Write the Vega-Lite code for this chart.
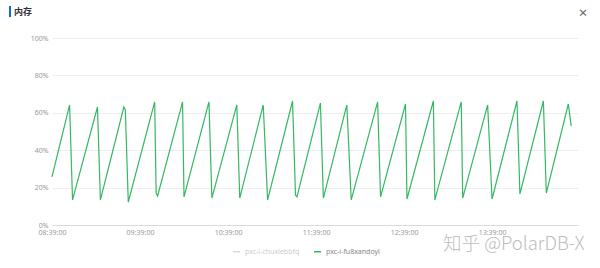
{
  "$schema": "https://vega.github.io/schema/vega-lite/v6.json",
  "width": 526,
  "height": 187,
  "autosize": "none",
  "padding": {"left": 52, "top": 38, "right": 22, "bottom": 43},
  "background": "white",
  "config": {
    "view": {"stroke": null},
    "font": "Noto Sans"
  },
  "title": {
    "text": "内存",
    "anchor": "start",
    "frame": "group",
    "dx": -38,
    "offset": 0,
    "dy": 12,
    "fontSize": 9,
    "fontWeight": "bold",
    "color": "#333",
    "font": "Noto Sans CJK SC"
  },
  "datasets": {
    "mem": [
      {"time": "2024-01-01T08:39:00", "value": 25.7, "instance": "pxc-i-fu8xandoyl"},
      {"time": "2024-01-01T08:51:00", "value": 64.2, "instance": "pxc-i-fu8xandoyl"},
      {"time": "2024-01-01T08:53:00", "value": 13.4, "instance": "pxc-i-fu8xandoyl"},
      {"time": "2024-01-01T09:10:00", "value": 63.1, "instance": "pxc-i-fu8xandoyl"},
      {"time": "2024-01-01T09:12:00", "value": 13.4, "instance": "pxc-i-fu8xandoyl"},
      {"time": "2024-01-01T09:28:00", "value": 63.1, "instance": "pxc-i-fu8xandoyl"},
      {"time": "2024-01-01T09:29:00", "value": 61.5, "instance": "pxc-i-fu8xandoyl"},
      {"time": "2024-01-01T09:31:00", "value": 12.3, "instance": "pxc-i-fu8xandoyl"},
      {"time": "2024-01-01T09:49:00", "value": 65.8, "instance": "pxc-i-fu8xandoyl"},
      {"time": "2024-01-01T09:50:00", "value": 17.1, "instance": "pxc-i-fu8xandoyl"},
      {"time": "2024-01-01T09:51:00", "value": 15.5, "instance": "pxc-i-fu8xandoyl"},
      {"time": "2024-01-01T10:08:00", "value": 65.8, "instance": "pxc-i-fu8xandoyl"},
      {"time": "2024-01-01T10:09:00", "value": 15.0, "instance": "pxc-i-fu8xandoyl"},
      {"time": "2024-01-01T10:26:00", "value": 65.8, "instance": "pxc-i-fu8xandoyl"},
      {"time": "2024-01-01T10:28:00", "value": 14.4, "instance": "pxc-i-fu8xandoyl"},
      {"time": "2024-01-01T10:45:00", "value": 64.2, "instance": "pxc-i-fu8xandoyl"},
      {"time": "2024-01-01T10:47:00", "value": 14.4, "instance": "pxc-i-fu8xandoyl"},
      {"time": "2024-01-01T11:03:00", "value": 64.2, "instance": "pxc-i-fu8xandoyl"},
      {"time": "2024-01-01T11:06:00", "value": 13.4, "instance": "pxc-i-fu8xandoyl"},
      {"time": "2024-01-01T11:23:00", "value": 66.3, "instance": "pxc-i-fu8xandoyl"},
      {"time": "2024-01-01T11:25:00", "value": 16.0, "instance": "pxc-i-fu8xandoyl"},
      {"time": "2024-01-01T11:26:00", "value": 15.0, "instance": "pxc-i-fu8xandoyl"},
      {"time": "2024-01-01T11:42:00", "value": 65.2, "instance": "pxc-i-fu8xandoyl"},
      {"time": "2024-01-01T11:44:00", "value": 14.4, "instance": "pxc-i-fu8xandoyl"},
      {"time": "2024-01-01T12:00:00", "value": 64.2, "instance": "pxc-i-fu8xandoyl"},
      {"time": "2024-01-01T12:03:00", "value": 13.4, "instance": "pxc-i-fu8xandoyl"},
      {"time": "2024-01-01T12:21:00", "value": 65.8, "instance": "pxc-i-fu8xandoyl"},
      {"time": "2024-01-01T12:23:00", "value": 15.0, "instance": "pxc-i-fu8xandoyl"},
      {"time": "2024-01-01T12:40:00", "value": 64.7, "instance": "pxc-i-fu8xandoyl"},
      {"time": "2024-01-01T12:41:00", "value": 13.9, "instance": "pxc-i-fu8xandoyl"},
      {"time": "2024-01-01T12:59:00", "value": 66.3, "instance": "pxc-i-fu8xandoyl"},
      {"time": "2024-01-01T13:00:00", "value": 13.4, "instance": "pxc-i-fu8xandoyl"},
      {"time": "2024-01-01T13:18:00", "value": 65.8, "instance": "pxc-i-fu8xandoyl"},
      {"time": "2024-01-01T13:19:00", "value": 14.4, "instance": "pxc-i-fu8xandoyl"},
      {"time": "2024-01-01T13:36:00", "value": 64.2, "instance": "pxc-i-fu8xandoyl"},
      {"time": "2024-01-01T13:39:00", "value": 13.9, "instance": "pxc-i-fu8xandoyl"},
      {"time": "2024-01-01T13:56:00", "value": 66.3, "instance": "pxc-i-fu8xandoyl"},
      {"time": "2024-01-01T13:58:00", "value": 16.6, "instance": "pxc-i-fu8xandoyl"},
      {"time": "2024-01-01T14:14:00", "value": 66.3, "instance": "pxc-i-fu8xandoyl"},
      {"time": "2024-01-01T14:16:00", "value": 17.1, "instance": "pxc-i-fu8xandoyl"},
      {"time": "2024-01-01T14:31:00", "value": 64.7, "instance": "pxc-i-fu8xandoyl"},
      {"time": "2024-01-01T14:33:00", "value": 52.9, "instance": "pxc-i-fu8xandoyl"}
    ],
    "decor": [
      {"time": "2024-01-01T13:05:36", "value": -13.4, "label": "知乎 @PolarDB-X", "kind": "mark"},
      {"time": "2024-01-01T14:41:00", "value": 113.4, "label": "×", "kind": "close"}
    ],
    "bar": [
      {"time": "2024-01-01T08:10:22", "value": 117.1, "value2": 111.2}
    ]
  },
  "encoding": {
    "x": {
      "field": "time",
      "type": "temporal",
      "scale": {"domain": [{"year": 2024, "month": 1, "date": 1, "hours": 8, "minutes": 39}, {"year": 2024, "month": 1, "date": 1, "hours": 14, "minutes": 37, "seconds": 36}]},
      "axis": {
        "title": null,
        "format": "%H:%M:%S",
        "values": [
          {"year": 2024, "month": 1, "date": 1, "hours": 8, "minutes": 39},
          {"year": 2024, "month": 1, "date": 1, "hours": 9, "minutes": 39},
          {"year": 2024, "month": 1, "date": 1, "hours": 10, "minutes": 39},
          {"year": 2024, "month": 1, "date": 1, "hours": 11, "minutes": 39},
          {"year": 2024, "month": 1, "date": 1, "hours": 12, "minutes": 39},
          {"year": 2024, "month": 1, "date": 1, "hours": 13, "minutes": 39}
        ],
        "grid": false,
        "ticks": false,
        "domain": true,
        "domainColor": "#d9d9d9",
        "labelFontSize": 7,
        "labelColor": "#999",
        "labelPadding": 3,
        "labelFlush": false,
        "labelOverlap": false
      }
    },
    "y": {
      "field": "value",
      "type": "quantitative",
      "scale": {"domain": [0, 100], "nice": false},
      "axis": {
        "title": null,
        "values": [0, 20, 40, 60, 80, 100],
        "labelExpr": "datum.value + '%'",
        "domain": false,
        "ticks": false,
        "gridColor": "#efefef",
        "labelFontSize": 7,
        "labelColor": "#999",
        "labelPadding": 4,
        "labelOverlap": false,
        "labelBound": false
      }
    }
  },
  "layer": [
    {
      "data": {"name": "mem"},
      "mark": {"type": "line", "strokeWidth": 1.2, "interpolate": "linear"},
      "encoding": {
        "color": {
          "field": "instance",
          "type": "nominal",
          "scale": {"domain": ["pxc-i-chuxlebbfq", "pxc-i-fu8xandoyl"], "range": ["#d9d9d9", "#34b862"]},
          "legend": {
            "title": null,
            "orient": "none",
            "legendX": 180,
            "legendY": 209,
            "direction": "horizontal",
            "symbolType": "stroke",
            "symbolStrokeWidth": 1.5,
            "symbolSize": 50,
            "labelFontSize": 7,
            "labelColor": "#999",
            "columnPadding": 10,
            "encode": {
              "labels": {"update": {"fill": {"signal": "datum.value === 'pxc-i-chuxlebbfq' ? '#cccccc' : '#888888'"}}}
            }
          }
        }
      }
    },
    {
      "data": {"name": "decor"},
      "transform": [{"filter": "datum.kind === 'mark'"}],
      "mark": {"type": "text", "align": "left", "baseline": "alphabetic", "fontSize": 18.5, "font": "Noto Sans CJK SC", "fontWeight": 300, "color": "#bdbdbd"},
      "encoding": {
        "text": {"field": "label"}
      }
    },
    {
      "data": {"name": "decor"},
      "transform": [{"filter": "datum.kind === 'close'"}],
      "mark": {"type": "text", "align": "center", "baseline": "middle", "fontSize": 15, "color": "#666"},
      "encoding": {
        "text": {"field": "label"}
      }
    },
    {
      "data": {"name": "bar"},
      "mark": {"type": "rule", "strokeWidth": 2, "color": "#0a6ed1"},
      "encoding": {
        "y2": {"field": "value2"}
      }
    }
  ]
}
